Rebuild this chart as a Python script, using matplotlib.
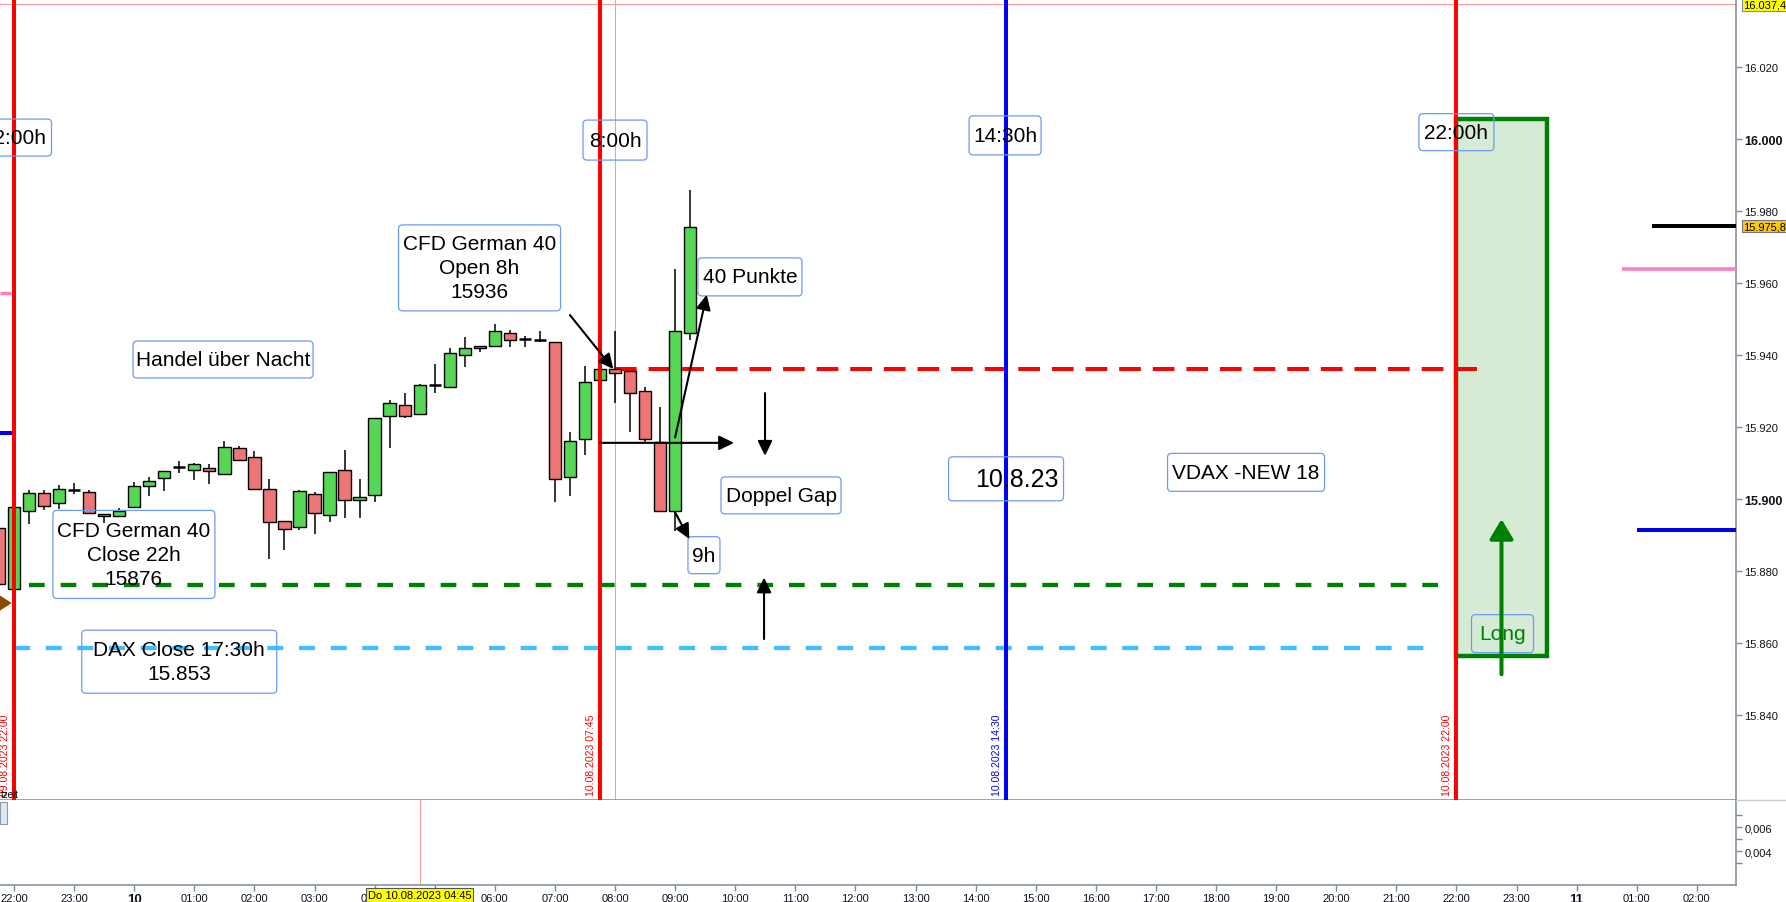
import matplotlib
matplotlib.use("Agg")
import matplotlib.pyplot as plt
from matplotlib import font_manager
from matplotlib.patches import FancyBboxPatch, Rectangle, Polygon, FancyArrowPatch
from matplotlib.lines import Line2D
from matplotlib.transforms import ScaledTranslation, blended_transform_factory

plt.rcParams['font.family'] = ['Liberation Sans', 'DejaVu Sans']
plt.rcParams['lines.scale_dashes'] = False

# ---------------- data ----------------
# time axis: hours after 09.08.2023 22:00, 15-minute candles starting 21:45
candle_first_hour = -0.25
candle_step = 0.25
opens = [15891.9, 15875.0, 15896.8, 15901.6, 15898.8, 15902.6, 15901.9, 15895.8,
         15895.4, 15897.7, 15903.5, 15905.75, 15908.8, 15908.1, 15908.7, 15906.9,
         15914.1, 15911.6, 15902.8, 15894.0, 15892.1, 15901.5, 15895.5, 15908.0,
         15899.8, 15901.0, 15923.0, 15926.0, 15923.5, 15931.75, 15931.0, 15939.9,
         15942.5, 15942.4, 15946.0, 15944.35, 15944.25, 15943.5, 15906.0, 15916.6,
         15933.0, 15936.1, 15935.5, 15929.9, 15915.75, 15896.6, 15946.0]
highs = [15893.0, 15898.0, 15902.6, 15902.6, 15903.9, 15904.4, 15902.6, 15895.8,
         15897.5, 15904.6, 15906.0, 15907.7, 15910.5, 15909.9, 15909.6, 15916.2,
         15914.6, 15913.25, 15905.6, 15894.0, 15902.5, 15902.0, 15907.4, 15913.6,
         15905.6, 15922.5, 15927.5, 15929.4, 15932.0, 15937.5, 15941.9, 15945.0,
         15942.5, 15948.6, 15946.9, 15945.2, 15946.6, 15943.5, 15918.5, 15936.9,
         15936.0, 15946.8, 15935.5, 15931.2, 15925.6, 15963.9, 15985.8]
lows = [15875.0, 15874.5, 15893.1, 15896.9, 15897.2, 15901.4, 15896.0, 15893.3,
        15895.0, 15897.7, 15900.9, 15902.1, 15907.2, 15905.4, 15904.2, 15906.9,
        15910.75, 15902.8, 15883.3, 15885.9, 15891.5, 15890.3, 15893.5, 15894.6,
        15894.6, 15899.1, 15914.1, 15922.4, 15923.5, 15929.4, 15931.0, 15936.75,
        15940.9, 15942.4, 15942.3, 15942.3, 15943.5, 15899.1, 15900.9, 15912.3,
        15933.0, 15926.6, 15918.5, 15915.75, 15896.6, 15891.0, 15944.2]
closes = [15876.4, 15897.7, 15901.6, 15898.0, 15902.8, 15902.6, 15896.0, 15895.2,
          15896.6, 15903.5, 15904.9, 15907.7, 15908.8, 15909.6, 15907.7, 15914.5,
          15910.75, 15902.8, 15893.5, 15891.7, 15902.1, 15896.0, 15907.4, 15899.6,
          15900.5, 15922.5, 15926.6, 15923.0, 15931.6, 15931.75, 15940.5, 15941.9,
          15941.9, 15946.6, 15944.1, 15944.35, 15944.25, 15905.5, 15916.0, 15932.4,
          15936.0, 15934.9, 15929.4, 15916.6, 15896.6, 15946.6, 15975.5]

cfd_close_22h = 15876.0
dax_close_line = 15858.5
cfd_open_8h = 15936.0
current_price = 15975.8
top_price = 16037.4
pink_level = 15964.0
blue_level = 15891.4
left_pink_level = 15957.2
left_blue_level = 15918.3
left_marker_level = 15871.1
long_box_top = 16005.6
long_box_bottom = 15856.4

vline_hours = [0.0, 9.75, 16.5, 24.0]
vline_colors = ['#ff0000', '#ff0000', '#0000ff', '#ff0000']
vline_labels = ['09.08.2023 22:00', '10.08.2023 07:45', '10.08.2023 14:30', '10.08.2023 22:00']
open_line_hour = 10.0
cursor_hour = 6.75

y_ticks = [15840, 15860, 15880, 15900, 15920, 15940, 15960, 15980, 16000, 16020]
y_tick_labels = ['15.840', '15.860', '15.880', '15.900', '15.920', '15.940', '15.960',
                 '15.980', '16.000', '16.020']
x_ticks = list(range(0, 29))
x_tick_labels = ['22:00', '23:00', '10', '01:00', '02:00', '03:00', '04:00', '05:00',
                 '06:00', '07:00', '08:00', '09:00', '10:00', '11:00', '12:00', '13:00',
                 '14:00', '15:00', '16:00', '17:00', '18:00', '19:00', '20:00', '21:00',
                 '22:00', '23:00', '11', '01:00', '02:00']
low_ticks = [0.004, 0.006]
low_tick_labels = ['0,004', '0,006']
low_minor = [0.003, 0.005, 0.007]

# ---------------- layout ----------------
W, H, DPI = 1786, 903, 100
AX_R, MAIN_B, LOW_B = 1736, 801, 886
fig = plt.figure(figsize=(W / DPI, H / DPI), dpi=DPI, facecolor='white')
ax = fig.add_axes([0, 1 - MAIN_B / H, AX_R / W, MAIN_B / H])
low = fig.add_axes([0, 1 - LOW_B / H, AX_R / W, (LOW_B - MAIN_B) / H])
XL = (-0.233, 28.652)
YL = (15816.39, 16038.89)
ax.set_xlim(XL)
ax.set_ylim(YL)
low.set_xlim(XL)
low.set_ylim(0.001167, 0.00825)
PXH = AX_R / (XL[1] - XL[0])

SPINE = '#7a8a99'
for a in (ax, low):
    for s in ('left', 'top'):
        a.spines[s].set_visible(False)
    a.spines['right'].set_color(SPINE)
    a.spines['bottom'].set_color(SPINE)
    a.spines['right'].set_linewidth(1.1)
    a.spines['bottom'].set_linewidth(1.1)
fig.add_artist(Line2D([AX_R / W, 1], [1 - MAIN_B / H] * 2, color='#c5cdd5', lw=1.0))

def px(dx=0, dy=0):
    return ScaledTranslation(dx / DPI, dy / DPI, fig.dpi_scale_trans)

# ---- y axis (right) ----
ax.yaxis.tick_right()
ax.set_yticks(y_ticks)
ax.set_yticklabels(y_tick_labels)
ax.tick_params(axis='y', length=4, width=1, color=SPINE, labelsize=8, pad=2, labelcolor='#10101a')
for lbl, v in zip(ax.get_yticklabels(), y_ticks):
    if v % 100 == 0:
        lbl.set_fontweight('bold')
        lbl.set_fontsize(9)
ax.tick_params(axis='x', bottom=False, labelbottom=False)

low.yaxis.tick_right()
low.set_yticks(low_ticks)
low.set_yticklabels(low_tick_labels)
low.set_yticks(low_minor, minor=True)
low.tick_params(axis='y', which='both', length=4, width=1, color=SPINE, labelsize=8, pad=2, labelcolor='#10101a')

names = {f.name for f in font_manager.fontManager.ttflist}
if 'Liberation Sans Narrow' in names:
    xfam, xsize = ['Liberation Sans Narrow', 'Liberation Sans'], 9
else:
    xfam, xsize = ['Liberation Sans', 'DejaVu Sans'], 8
low.set_xticks(x_ticks)
low.set_xticklabels(x_tick_labels, family=xfam, fontsize=xsize)
low.tick_params(axis='x', length=4, width=1, color=SPINE, pad=2, labelcolor='#10101a')
for lbl in low.get_xticklabels():
    if ':' not in lbl.get_text():
        lbl.set_fontweight('bold')
        lbl.set_fontsize(xsize + 1.5)
low.axvline(cursor_hour, color='#ff9a9a', lw=0.8)
low.text(cursor_hour, 0, 'Do 10.08.2023 04:45', family=xfam, fontsize=xsize,
         transform=blended_transform_factory(low.transData, low.transAxes) + px(0, -10),
         ha='center', va='center', clip_on=False, zorder=20,
         bbox=dict(boxstyle='square,pad=0.18', fc='#ffff00', ec='#555555', lw=0.8))
low.add_patch(Rectangle((0, 0.72), 0.004, 0.26, transform=low.transAxes, fc='#dde8f0',
                        ec='#8899aa', lw=0.8, clip_on=False))

# ---- background lines ----
ax.axhline(top_price, color='#ff9a9a', lw=0.8, zorder=1)
ax.axvline(open_line_hour, color='#ff9a9a', lw=0.8, zorder=2.5)

# long box
ax.add_patch(Rectangle((24.0, long_box_bottom), 25.51 - 24.0, long_box_top - long_box_bottom,
                       fc='#d5ebd5', ec='#008000', lw=3.2, zorder=1.5))

# dashed levels
ax.plot([0.25, 23.94], [cfd_close_22h] * 2, color='#008000', lw=3.1, dashes=(11.3, 11.5), zorder=2)
ax.plot([0.0, 23.69], [dax_close_line] * 2, color='#40bfff', lw=3.1, dashes=(11.5, 11.3), zorder=2)
ax.plot([10.0, 24.51], [cfd_open_8h] * 2, color='#ff0000', lw=2.9, dashes=(15.6, 8.6), zorder=2)

# ---- candles ----
GREEN, RED = '#55d655', '#ec7575'
bw = 12.3 / PXH
for i, (o, hi, lo, c) in enumerate(zip(opens, highs, lows, closes)):
    t = candle_first_hour + i * candle_step
    ax.plot([t, t], [lo, hi], color='black', lw=1.1, zorder=3, solid_capstyle='butt')
    if abs(c - o) < 0.5:
        ax.plot([t - bw / 2, t + bw / 2], [o, o], color='black', lw=1.8, zorder=4,
                solid_capstyle='butt')
    else:
        ax.add_patch(Rectangle((t - bw / 2, min(o, c)), bw, abs(c - o),
                               fc=GREEN if c > o else RED, ec='black', lw=1.0, zorder=4))

# ---- vertical session lines ----
for hh, col, lab in zip(vline_hours, vline_colors, vline_labels):
    ax.axvline(hh, color=col, lw=2.9, zorder=5)
    ax.text(hh, YL[0], lab, rotation=90, ha='right', va='bottom', fontsize=7.6, color=col,
            transform=ax.transData + px(-4, 5), zorder=6)
ax.text(XL[0], YL[0], 'tzeit', fontsize=7, ha='left', va='bottom',
        transform=ax.transData + px(1, 1), zorder=7)

# right side short levels
ax.plot([27.25, XL[1]], [current_price] * 2, color='black', lw=2.9, solid_capstyle='butt', zorder=4)
ax.plot([26.76, XL[1]], [pink_level] * 2, color='#ff80c0', lw=2.6, solid_capstyle='butt', zorder=4)
ax.plot([27.0, XL[1]], [blue_level] * 2, color='#0000ee', lw=2.9, solid_capstyle='butt', zorder=4)

# left edge markers
ax.plot([XL[0], -0.042], [left_pink_level] * 2, color='#ff80c0', lw=2.5, solid_capstyle='butt')
ax.plot([XL[0], -0.033], [left_blue_level] * 2, color='#0000ff', lw=2.9, solid_capstyle='butt')
ax.add_patch(Polygon([(XL[0], left_marker_level + 2.1), (XL[0], left_marker_level - 2.1),
                      (-0.038, left_marker_level)], closed=True, fc='#8b4a00', ec='none', zorder=6))

# price labels on the axis
btr = blended_transform_factory(ax.transAxes, ax.transData)
ax.text(1.0, top_price, '16.037,4', transform=btr + px(7, 0), ha='left', va='center', fontsize=8,
        clip_on=False, zorder=10,
        bbox=dict(boxstyle='square,pad=0.12', fc='#ffff00', ec='#888888', lw=0.8))
ax.text(1.0, current_price, '15.975,8', transform=btr + px(7, 0), ha='left', va='center', fontsize=8,
        clip_on=False, zorder=10,
        bbox=dict(boxstyle='square,pad=0.12', fc='#ffc800', ec='#777777', lw=0.8))

# ---- annotation boxes ----
def tbox(h, p, wpx, hpx, text, size=15, color='black', dx=0, dy=0):
    tr = fig.dpi_scale_trans + ScaledTranslation(h, p, ax.transData)
    ax.add_patch(FancyBboxPatch((-wpx / 2 / DPI, -hpx / 2 / DPI), wpx / DPI, hpx / DPI,
                                boxstyle='round,pad=0,rounding_size=0.04', transform=tr,
                                fc='none', ec='#6d9bef', lw=0.9, zorder=7, clip_on=False))
    ax.text(h, p, text, fontsize=size, color=color, ha='center', va='center',
            multialignment='center', linespacing=1.33,
            transform=ax.transData + px(dx, dy), zorder=8, clip_on=False)

tbox(0.0, 16000.4, 75, 37, '22:00h')
tbox(10.0, 15999.7, 64, 40, '8:00h')
tbox(16.49, 16001.0, 72, 39, '14:30h')
tbox(24.0, 16001.9, 75, 37, '22:00h')
tbox(1.995, 15884.6, 162, 88, 'CFD German 40\nClose 22h\n15876')
tbox(2.749, 15854.8, 195, 63, 'DAX Close 17:30h\n15.853')
tbox(7.746, 15964.2, 162, 86, 'CFD German 40\nOpen 8h\n15936')
tbox(3.478, 15938.75, 180, 37, 'Handel über Nacht')
tbox(12.246, 15961.7, 104, 38, '40 Punkte')
tbox(12.762, 15901.0, 120, 37, 'Doppel Gap')
tbox(11.48, 15884.4, 32, 37, '9h')
tbox(16.506, 15905.6, 115, 44, '10.8.23', size=18, dx=11)
tbox(20.5, 15907.4, 157, 38, 'VDAX -NEW 18')
tbox(24.767, 15862.6, 62, 38, 'Long', color='#008000')

# ---- arrows ----
arrows = [((9.25, 15951.1), (9.972, 15936.1)),
          ((9.75, 15915.6), (11.98, 15915.6)),
          ((11.0, 15917.1), (11.526, 15956.75)),
          ((11.0, 15896.3), (11.236, 15888.9)),
          ((12.496, 15929.4), (12.496, 15912.0)),
          ((12.48, 15861.1), (12.48, 15878.2))]
for a, b in arrows:
    ax.add_patch(FancyArrowPatch(a, b, arrowstyle='-|>,head_length=0.45,head_width=0.22',
                                 mutation_scale=20, lw=1.5, color='black',
                                 shrinkA=0, shrinkB=0, zorder=9))
ax.add_patch(FancyArrowPatch((24.75, 15851.3), (24.75, 15894.4),
                             arrowstyle='-|>,head_length=0.6,head_width=0.36',
                             mutation_scale=20, lw=2.9, color='#008000',
                             shrinkA=0, shrinkB=0, zorder=9))

fig.savefig('out.png', dpi=DPI, facecolor='white')
